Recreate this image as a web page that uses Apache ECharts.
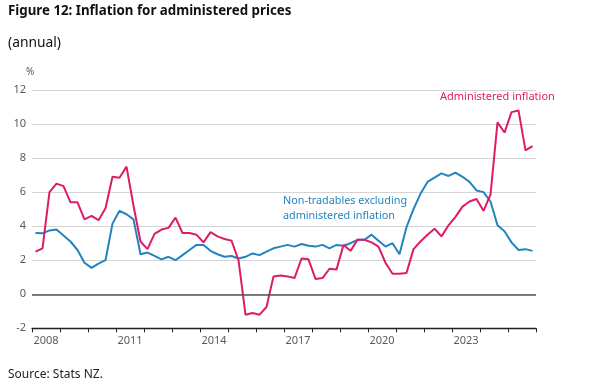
<!DOCTYPE html>
<html>
<head>
<meta charset="utf-8">
<script src="https://cdn.jsdelivr.net/npm/echarts@6/dist/echarts.min.js"></script>
<style>
html,body{margin:0;padding:0;background:#fff;}
#chart{width:616px;height:387px;}
</style>
</head>
<body>
<div id="chart"></div>
<script>
// Years shown on the x axis (one band per year, quarterly data inside)
var years = ['2008','2009','2010','2011','2012','2013','2014','2015','2016','2017','2018','2019','2020','2021','2022','2023','2024','2025'];
var quarterNames = ['Q1','Q2','Q3','Q4'];
var quarters = [];
years.forEach(function (y) { quarterNames.forEach(function (q) { quarters.push(y + q); }); });

// Administered inflation (annual %, quarterly)
var administered = [2.5, 2.7, 6.0, 6.5, 6.35, 5.4, 5.4, 4.4, 4.6, 4.35, 5.05, 6.9, 6.85, 7.5, 5.2, 3.1,
  2.65, 3.55, 3.8, 3.9, 4.5, 3.6, 3.6, 3.5, 3.05, 3.65, 3.4, 3.25, 3.15, 2.0, -1.2, -1.1,
  -1.2, -0.75, 1.05, 1.1, 1.05, 0.95, 2.1, 2.05, 0.9, 0.95, 1.5, 1.45, 2.9, 2.55, 3.2, 3.2,
  3.05, 2.8, 1.85, 1.2, 1.2, 1.25, 2.65, 3.1, 3.5, 3.85, 3.4, 4.05, 4.55, 5.15, 5.45, 5.6,
  4.9, 5.85, 10.1, 9.5, 10.7, 10.8, 8.45, 8.7];

// Non-tradables excluding administered inflation (annual %, quarterly)
var nonTradables = [3.6, 3.58, 3.75, 3.8, 3.45, 3.1, 2.6, 1.85, 1.55, 1.8, 2.0, 4.15, 4.9, 4.7, 4.4, 2.35,
  2.45, 2.25, 2.05, 2.2, 2.0, 2.3, 2.6, 2.9, 2.9, 2.55, 2.35, 2.2, 2.25, 2.1, 2.2, 2.4,
  2.3, 2.5, 2.7, 2.8, 2.9, 2.8, 2.95, 2.85, 2.8, 2.9, 2.7, 2.9, 2.85, 3.0, 3.2, 3.2,
  3.5, 3.15, 2.8, 3.0, 2.35, 3.95, 5.0, 5.9, 6.6, 6.85, 7.1, 6.95, 7.15, 6.9, 6.6, 6.1,
  6.0, 5.45, 4.05, 3.7, 3.05, 2.6, 2.65, 2.55];

var yTicks = { min: -2, max: 12, interval: 2 };

var RED = '#DD1C68';
var BLUE = '#2383BE';
var GREY = '#5a5a5a';
var FONT = 'Noto Sans';

var chart = echarts.init(document.getElementById('chart'), null, { renderer: 'canvas' });
chart.setOption({
  animation: false,
  backgroundColor: '#ffffff',
  textStyle: { fontFamily: FONT },
  grid: { left: 32, right: 80, top: 90, height: 238.3, containLabel: false },
  xAxis: [
    { type: 'category', data: quarters, boundaryGap: true, show: false },
    {
      type: 'category', data: years, boundaryGap: true, position: 'bottom',
      axisLine: { show: true, lineStyle: { color: '#222', width: 1.3 } },
      axisTick: { show: true, interval: 0, length: 4, lineStyle: { color: '#222', width: 1 } },
      axisLabel: { interval: 2, color: GREY, fontSize: 11, fontFamily: FONT, margin: 7 },
      splitLine: { show: false }
    }
  ],
  yAxis: {
    type: 'value', min: yTicks.min, max: yTicks.max, interval: yTicks.interval,
    axisLine: { show: false }, axisTick: { show: false },
    axisLabel: { color: GREY, fontSize: 11, fontFamily: FONT, margin: 6 },
    splitLine: { show: true, lineStyle: { color: '#d4d4d4', width: 1 } }
  },
  series: [
    {
      name: 'Non-tradables excluding administered inflation', type: 'line', xAxisIndex: 0,
      data: nonTradables, symbol: 'none', smooth: false,
      lineStyle: { color: BLUE, width: 2 }, itemStyle: { color: BLUE },
      markLine: {
        silent: true, symbol: 'none', label: { show: false },
        lineStyle: { color: '#555', width: 1.6, type: 'solid' },
        data: [{ yAxis: 0 }]
      },
      z: 3
    },
    {
      name: 'Administered inflation', type: 'line', xAxisIndex: 0,
      data: administered, symbol: 'none', smooth: false,
      lineStyle: { color: RED, width: 2 }, itemStyle: { color: RED },
      z: 4
    }
  ],
  graphic: [
    { type: 'text', left: 8, top: 5, style: { text: 'Figure 12: Inflation for administered prices', font: 'bold 13.3px "' + FONT + '"', fill: '#111' } },
    { type: 'text', left: 8, top: 36, style: { text: '(annual)', font: '13.8px "' + FONT + '"', fill: '#111' } },
    { type: 'text', left: 26, top: 67, style: { text: '%', font: '10px "' + FONT + '"', fill: GREY } },
    { type: 'text', left: 440, top: 91, style: { text: 'Administered inflation', font: '11px "' + FONT + '"', fill: RED } },
    { type: 'text', left: 283, top: 193, style: { text: 'Non-tradables excluding\nadministered inflation', font: '10.8px "' + FONT + '"', fill: BLUE, align: 'center', lineHeight: 15 } },
    { type: 'text', left: 8, top: 369, style: { text: 'Source: Stats NZ.', font: '12px "' + FONT + '"', fill: '#222' } }
  ]
});
</script>
</body>
</html>
